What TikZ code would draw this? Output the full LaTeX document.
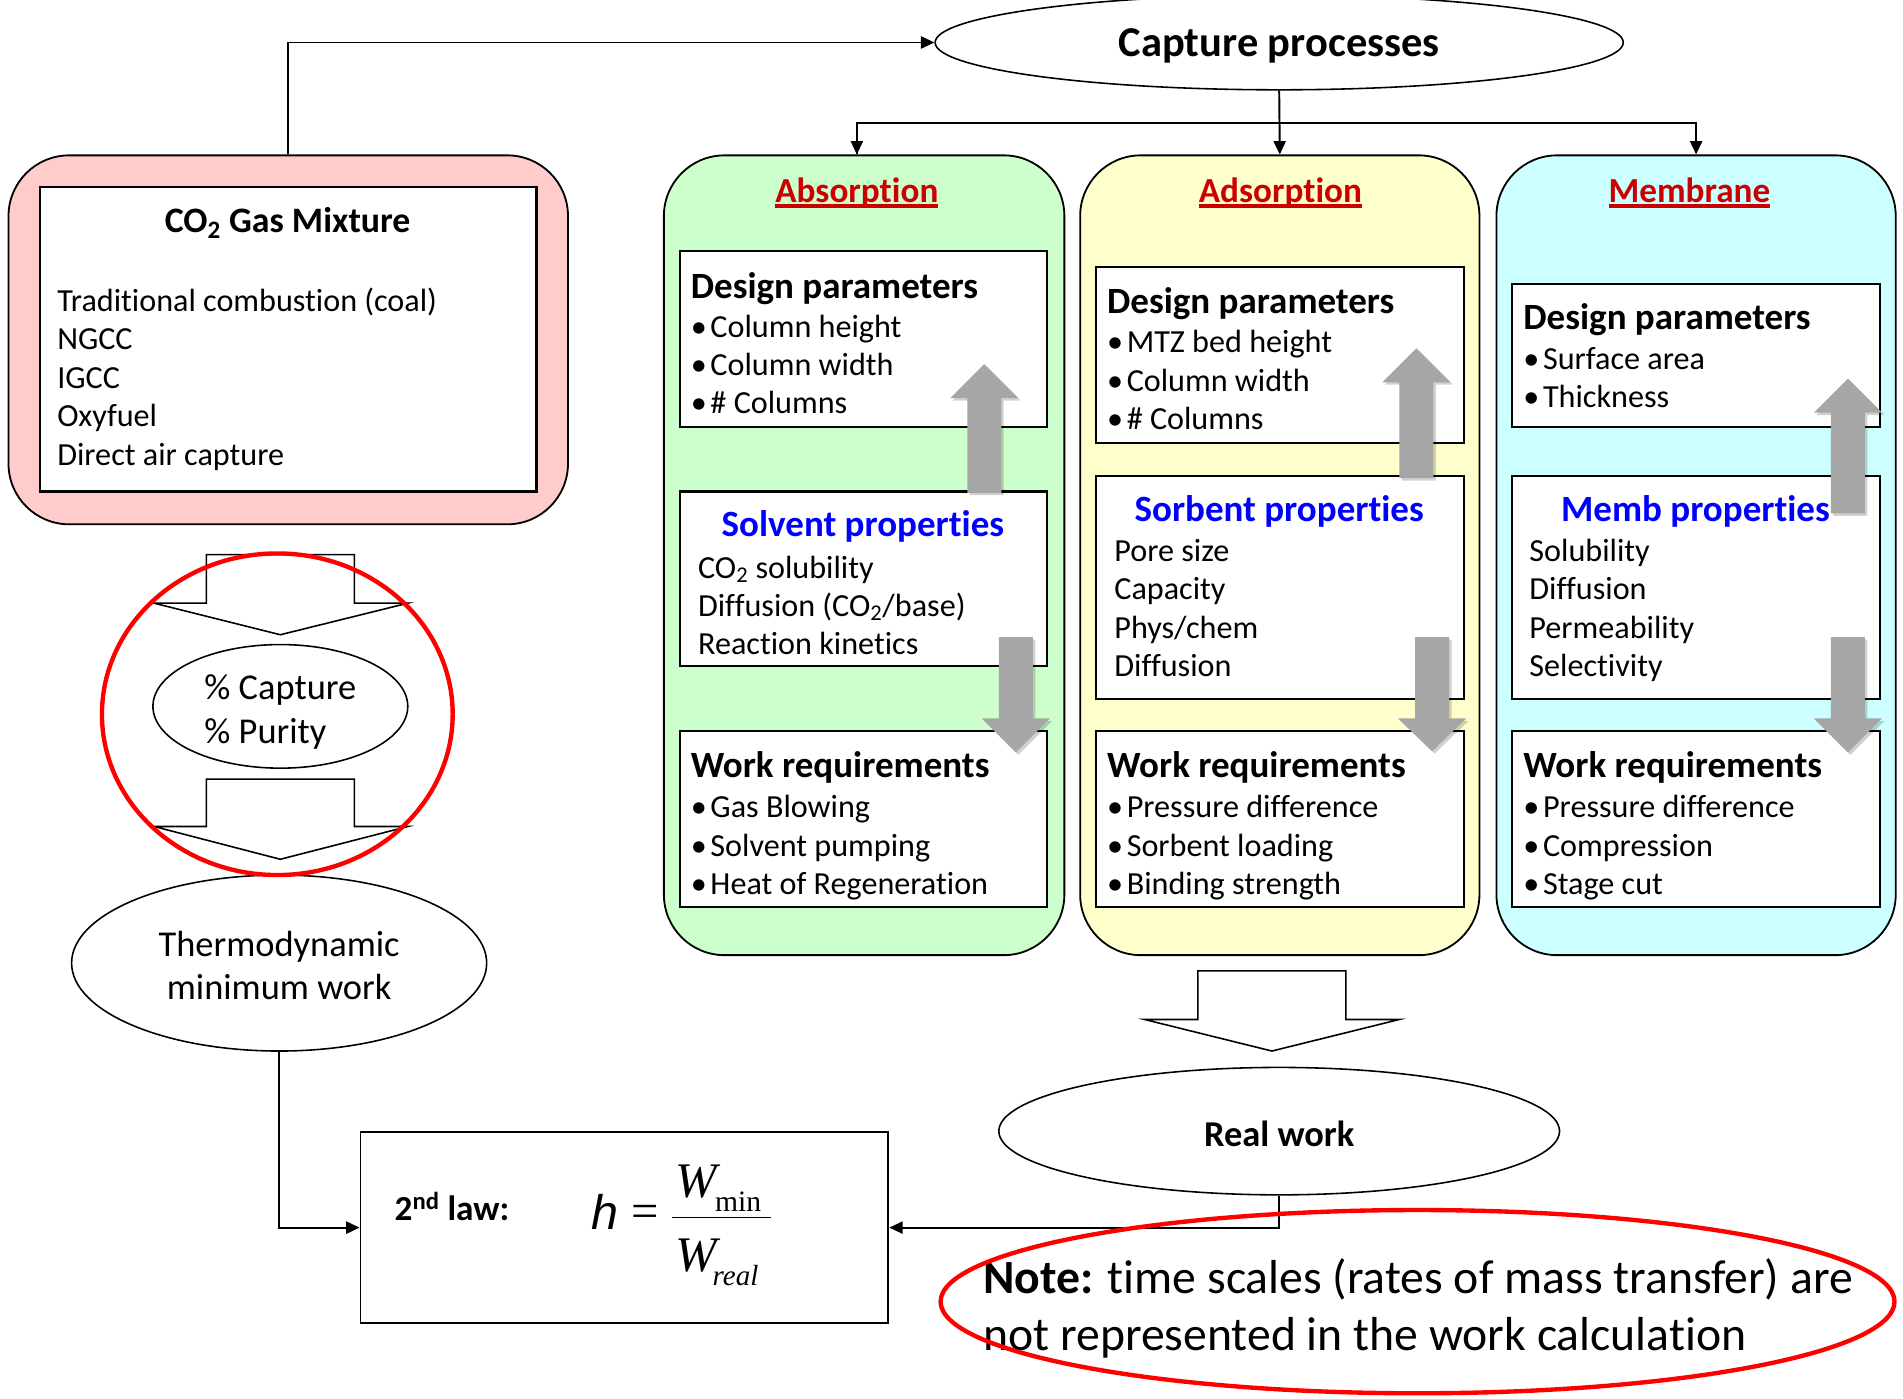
\documentclass[tikz,border=0pt]{standalone}
\usepackage{fontspec}
\setmainfont[Ligatures=NoCommon]{Carlito}
\newfontfamily\timesfont{Liberation Serif}
\newfontfamily\arialfont{Liberation Sans}
\usetikzlibrary{shapes.geometric,arrows.meta,calc}

\definecolor{pinkbg}{RGB}{255,204,204}
\definecolor{greenbg}{RGB}{204,255,204}
\definecolor{yellowbg}{RGB}{255,255,204}
\definecolor{cyanbg}{RGB}{204,255,255}
\definecolor{titlered}{RGB}{204,0,0}
\definecolor{propblue}{RGB}{0,0,255}
\definecolor{arrowgray}{RGB}{166,166,166}
\definecolor{markred}{RGB}{255,0,0}

\newcommand\fsz[2]{\fontsize{#1}{#2}\selectfont}
% underlined column heading
\newcommand\redul[1]{\setbox0\hbox{#1}\rlap{\vrule height -1pt depth 4pt width \wd0}\box0}
% one bullet line
\newcommand\bl{\strut\textbullet\hspace{3pt}}
% lower text inside a node without changing its reported size
\newcommand\dn[2]{\raisebox{-#1}[\height][\depth]{#2}}
% grey block arrow: centre x, tail y, head base y, tip y
\newcommand\grayarrow[4]{%
  \fill[black,opacity=0.18] ({#1-14+2},{#2+2}) -- ({#1-14+2},{#3+2}) -- ({#1-28+2},{#3+2}) -- ({#1+2},{#4+2}) -- ({#1+28+2},{#3+2}) -- ({#1+14+2},{#3+2}) -- ({#1+14+2},{#2+2}) -- cycle;
  \fill[garrow] ({#1-14},#2) -- ({#1-14},#3) -- ({#1-28},#3) -- (#1,#4) -- ({#1+28},#3) -- ({#1+14},#3) -- ({#1+14},#2) -- cycle;}
% white outlined block arrow: shaft left, shaft right, top, shoulder, wing left, wing right, tip x, tip y
\newcommand\blockarrow[8]{%
  \draw[blockarrow] (#1,#3) -- (#2,#3) -- (#2,#4) -- (#6,#4) -- (#7,#8) -- (#5,#4) -- (#1,#4) -- cycle;}

\begin{document}
\begin{tikzpicture}[x=1pt,y=-1pt,
  conn/.style={line width=1.6pt,-{Triangle[length=11pt,width=10pt]}},
  link/.style={line width=1.6pt},
  column/.style={draw,line width=1.5pt,rounded corners=50pt,minimum width=330pt,minimum height=659pt,inner sep=0pt},
  panel/.style={draw,fill=white,line width=1.8pt,minimum width=303pt,inner sep=0pt},
  oval/.style={ellipse,draw,fill=white,line width=1.3pt,inner sep=0pt},
  blockarrow/.style={draw,fill=white,line width=1.3pt,line join=miter},
  garrow/.style={fill=arrowgray},
  marker/.style={draw=markred,line width=3.6pt},
  head/.style={font=\fsz{30.5}{36}\bfseries,inner sep=0pt},
  coltitle/.style={font=\fsz{29}{34}\bfseries,text=titlered,inner sep=0pt,anchor=base},
  proptitle/.style={font=\fsz{30.5}{36}\bfseries,text=propblue,inner sep=0pt},
  body/.style={font=\fsz{26.5}{31.5},align=left,inner sep=0pt,anchor=west},
]
\useasboundingbox (0,0) rectangle (1568,1152);

% ---- capture processes
\node[oval,minimum width=567pt,minimum height=78pt,font=\fsz{35}{42}\bfseries] (cap) at (1054,35) {\dn{3pt}{Capture processes}};

% ---- gas mixture
\node[draw,line width=1.5pt,fill=pinkbg,rounded corners=50pt,minimum width=461pt,minimum height=304pt] (mix) at (237.5,280) {};
\node[draw,fill=white,line width=1.8pt,minimum width=409pt,minimum height=251pt] (mixin) at (237.5,279.5) {};
\node[head,font=\fsz{29.5}{35}\bfseries] (mixT) at (237,184) {CO\textsubscript{2} Gas Mixture};
\node[body,font=\fsz{26.5}{31.75}] (mixB) at (47,313.5) {\strut Traditional combustion (coal)\\\strut NGCC\\\strut IGCC\\\strut Oxyfuel\\\strut Direct air capture};

% ---- process columns
\node[column,fill=greenbg] (abs) at (712,457.5) {};
\node[column,fill=yellowbg,minimum width=329pt] (ads) at (1054.5,457.5) {};
\node[column,fill=cyanbg,minimum width=329pt] (mem) at (1397.5,457.5) {};

\node[coltitle] (absT) at (706,167) {\redul{Absorption}};
\node[coltitle] (adsT) at (1055,167) {\redul{Adsorption}};
\node[coltitle] (memT) at (1392,167) {\redul{Membrane}};

% absorption panels
\node[panel,minimum height=145pt] (absD) at (711.5,279.5) {};
\node[panel,minimum height=144pt] (absP) at (711.5,477) {};
\node[panel,minimum height=145pt] (absW) at (711.5,674.5) {};
\node[head,anchor=west] (absDh) at (569,237.5) {Design parameters};
\node[body] (absDb) at (569,303) {\bl Column height\\\bl Column width\\\bl \# Columns};
\node[proptitle] (absPh) at (711,434) {Solvent properties};
\node[body] (absPb) at (575,501.5) {\strut CO\textsubscript{2} solubility\\\strut Diffusion (CO\textsubscript{2}/base)\\\strut Reaction kinetics};
\node[head,anchor=west] (absWh) at (569,632.5) {Work requirements};
\node[body] (absWb) at (569,699) {\bl Gas Blowing\\\bl Solvent pumping\\\bl Heat of Regeneration};

% adsorption panels
\node[panel,minimum height=145pt] (adsD) at (1054.5,292.5) {};
\node[panel,minimum height=184pt] (adsP) at (1054.5,484) {};
\node[panel,minimum height=145pt] (adsW) at (1054.5,674.5) {};
\node[head,anchor=west] (adsDh) at (912,250.5) {Design parameters};
\node[body] (adsDb) at (912,316) {\bl MTZ bed height\\\bl Column width\\\bl \# Columns};
\node[proptitle] (adsPh) at (1054,421) {Sorbent properties};
\node[body] (adsPb) at (918,503.75) {\strut Pore size\\\strut Capacity\\\strut Phys/chem\\\strut Diffusion};
\node[head,anchor=west] (adsWh) at (912,632.5) {Work requirements};
\node[body] (adsWb) at (912,699) {\bl Pressure difference\\\bl Sorbent loading\\\bl Binding strength};

% membrane panels
\node[panel,minimum height=118pt] (memD) at (1397.5,293) {};
\node[panel,minimum height=184pt] (memP) at (1397.5,484) {};
\node[panel,minimum height=145pt] (memW) at (1397.5,674.5) {};
\node[head,anchor=west] (memDh) at (1255,263.5) {Design parameters};
\node[body] (memDb) at (1255,313.5) {\bl Surface area\\\bl Thickness};
\node[proptitle] (memPh) at (1397,421) {Memb properties};
\node[body] (memPb) at (1260,503.75) {\strut Solubility\\\strut Diffusion\\\strut Permeability\\\strut Selectivity};
\node[head,anchor=west] (memWh) at (1255,632.5) {Work requirements};
\node[body] (memWb) at (1255,699) {\bl Pressure difference\\\bl Compression\\\bl Stage cut};

% grey feedback arrows between panels
\grayarrow{811}{406}{328}{300}
\grayarrow{837}{525}{592}{620}
\grayarrow{1167}{394}{315}{287}
\grayarrow{1180}{525}{592}{619}
\grayarrow{1522.6}{423}{340}{312}
\grayarrow{1522.6}{525}{592}{620}

% ---- connectors from the capture ellipse
\path (cap.south) ++(0,27) coordinate (split);
\coordinate (absin) at ([xshift=-6pt]abs.north);
\draw[conn] (mix.north) |- (cap.west);
\draw[conn] (cap.south) -- (ads.north);
\draw[link] (split) -| (absin);
\draw[conn] (split -| absin) -- (absin);
\draw[conn] (split) -| (mem.north);

% ---- left column: capture targets and minimum work
\blockarrow{170}{292}{457}{497}{127}{336}{231}{523}
\node[oval,minimum width=210pt,minimum height=92pt,align=left,font=\fsz{30}{36}] (pct) at (231,582) {\dn{5pt}{\strut\% Capture}\\\dn{5pt}{\strut\% Purity}};
\blockarrow{170}{292}{642}{681}{127}{336}{231}{708}
\node[oval,minimum width=342pt,minimum height=145pt,align=center,font=\fsz{30}{36}] (thermo) at (230,793.5) {\dn{5pt}{\strut Thermodynamic}\\\dn{5pt}{\strut minimum work}};
\draw[marker] (228.5,588.5) ellipse [x radius=144.5, y radius=132.5];

% ---- real work
\blockarrow{987}{1109}{800}{840}{943}{1153}{1048}{866}
\node[oval,minimum width=462pt,minimum height=105pt,font=\fsz{30}{36}\bfseries] (real) at (1054,932) {\dn{2pt}{Real work}};

% ---- second law efficiency
\node[draw,line width=1.5pt,minimum width=435pt,minimum height=157pt,inner sep=0pt] (law) at (514.5,1011.5) {};
\node[anchor=base west,inner sep=0pt,font=\fsz{29}{34}\bfseries] (lawT) at (325,1006) {2\textsuperscript{nd} law:};
\node[anchor=base west,inner sep=0pt,font=\arialfont\itshape\fsz{40}{48}] (eta) at (487,1013) {h};
\node[anchor=base west,inner sep=0pt,font=\timesfont\fsz{40}{48}] (eq) at (520,1011) {=};
\draw[line width=1.3pt] (554,1003) -- (635,1003);
\node[anchor=base west,inner sep=0pt,font=\timesfont\itshape\fsz{41}{48}] (wtop) at (556,987) {W};
\node[anchor=base west,inner sep=0pt,font=\timesfont\fsz{24.4}{28}] (wmin) at (589,998) {min};
\node[anchor=base west,inner sep=0pt,font=\timesfont\itshape\fsz{41}{48}] (wbot) at (556,1048) {W};
\node[anchor=base west,inner sep=0pt,font=\timesfont\itshape\fsz{24}{28}] (wreal) at (587,1059) {real};

\draw[conn] (thermo.south) |- (law.west);
\draw[conn] (real.south) |- (law.east);

% ---- note
\node[body,font=\fsz{39.3}{47}] (note) at (810,1080) {\strut\textbf{Note:} time scales (rates of mass transfer) are\\\strut not represented in the work calculation};
\draw[marker] (1168,1072.5) ellipse [x radius=393, y radius=75.5];

\end{tikzpicture}
\end{document}
